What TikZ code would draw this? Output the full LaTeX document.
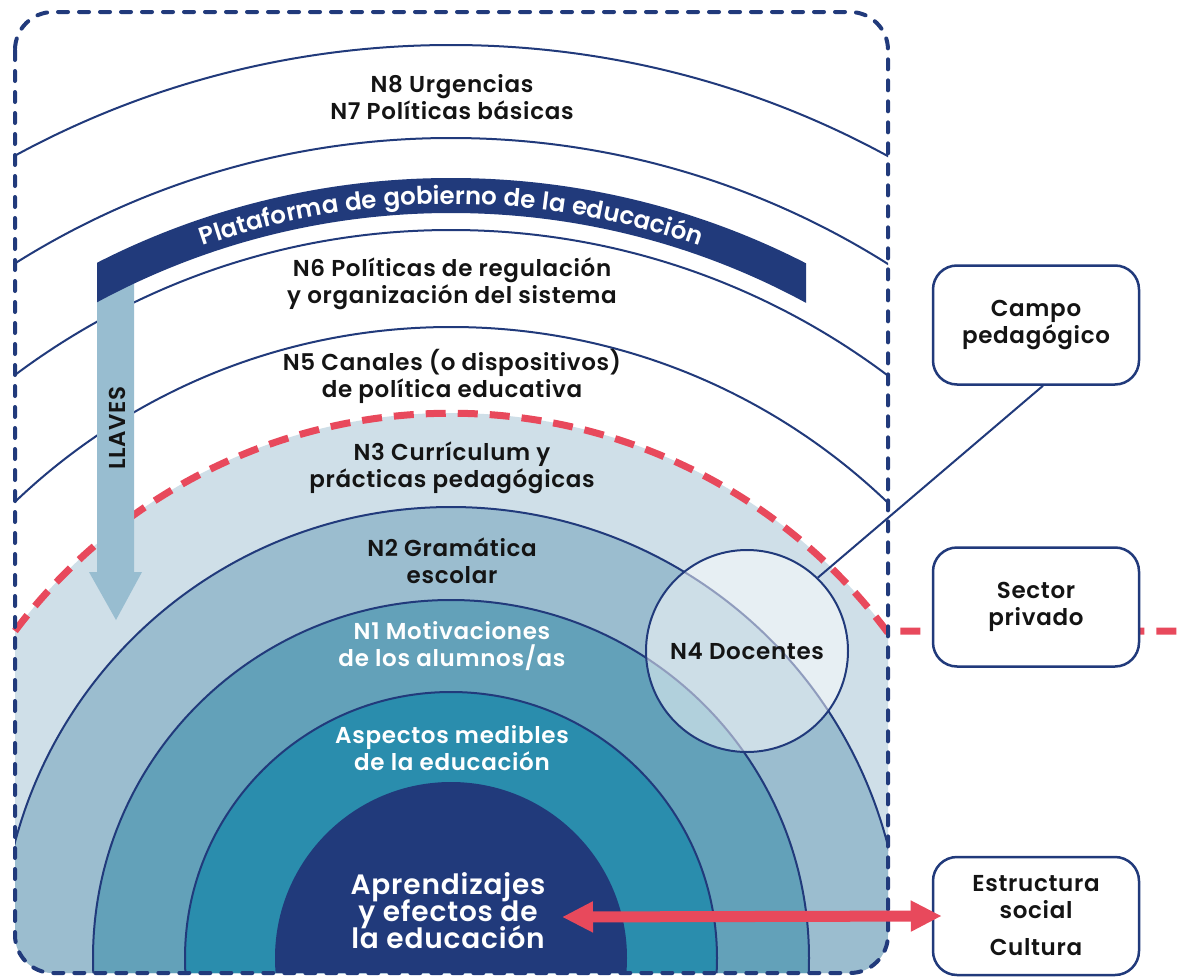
\documentclass[tikz,border=0pt]{standalone}
\usepackage{fontspec}
\IfFontExistsTF{Poppins SemiBold}{\setmainfont{Poppins SemiBold}[LetterSpace=3]}{\setmainfont{Poppins}[LetterSpace=3]}
\usetikzlibrary{arrows.meta,decorations.text}
\definecolor{navy}{HTML}{213A7B}
\definecolor{cNthree}{HTML}{CFDFE8}
\definecolor{cNtwo}{HTML}{9BBDCF}
\definecolor{cNone}{HTML}{63A1B9}
\definecolor{cAsp}{HTML}{2A8DAD}
\definecolor{redc}{HTML}{E8495C}
\definecolor{llave}{HTML}{98BDD0}
\definecolor{txt}{HTML}{141414}
\newcommand\lblfont{\fontsize{23}{27}\selectfont}
\newcommand\bandfont{\fontsize{24.5}{27}\selectfont}
\newcommand\bigfont{\fontsize{28}{27}\selectfont\lineskiplimit=-20pt}
\begin{document}
\begin{tikzpicture}[x=1pt,y=-1pt,
  thinarc/.style={draw=navy,line width=2pt},
  ring/.style={draw=navy,line width=2pt},
  lbl/.style={align=center,font=\lblfont,text=txt,inner sep=0pt},
  wlbl/.style={lbl,text=white},
  box/.style={draw=navy,line width=2.5pt,fill=white,rounded corners=24pt,
    minimum width=206pt,minimum height=119pt,align=center,font=\lblfont,text=txt,inner sep=0pt},
  reddash/.style={draw=redc,line width=7pt,dash pattern=on 20pt off 12pt},
  redarrow/.style={draw=redc,line width=11pt,{Triangle[length=31pt,width=29pt]}-{Triangle[length=31pt,width=29pt]}}
]
\fill[white] (0,0) rectangle (1187,977);
\useasboundingbox (0,0) rectangle (1187,977);
\coordinate (C) at (451,958);

% clipped content inside rounded frame
\begin{scope}
  \clip[rounded corners=38pt] (15,12) rectangle (888,973);
  \foreach \r in {913,820,728,631} \draw[thinarc] (C) circle[radius=\r];
  \fill[cNthree] (C) circle[radius=545];
  \filldraw[fill=cNtwo,ring] (C) circle[radius=451];
  \filldraw[fill=cNone,ring] (C) circle[radius=358];
  \filldraw[fill=cAsp,ring] (C) circle[radius=266];
  \fill[navy] (C) circle[radius=176];
\end{scope}

% red dashed boundary
\draw[reddash] (15,631) arc[start angle=-143.1,end angle=-36.9,radius=545] -- (1187,631);

% LLAVES arrow
\fill[llave] (97,280) -- (134,280) -- (134,572) -- (142,572) -- (116,620) -- (89,572) -- (97,572) -- cycle;
\node[lbl,rotate=90] (llaves) at (117,428) {LLAVES};

% band
\begin{scope}
  \clip (97,0) rectangle (806,400);
  \fill[navy,even odd rule] (C) circle[radius=780] (C) circle[radius=745];
\end{scope}
\path[decorate,decoration={text along path,text align=center,text color=white,
  text={|\bandfont|Plataforma de gobierno de la educación}}]
  (C) ++(-125:754) arc[start angle=-125,end angle=-55,radius=754];

% N4
\node[circle,minimum size=202pt,inner sep=0pt,draw=navy,line width=2pt,fill=white,
  fill opacity=0.5,text opacity=1,font=\lblfont,text=txt] (n4) at (747,651) {N4 Docentes};

% frame
\draw[navy,line width=4pt,dash pattern=on 10pt off 11pt,line cap=round,rounded corners=38pt]
  (15,12) rectangle (888,973);

% labels
\node[lbl] (l87) at (452,97.5) {N8 Urgencias\\N7 Políticas básicas};
\node[lbl] (l6) at (452,283.5) {N6 Políticas de regulación\\y organización del sistema};
\node[lbl] (l5) at (452,376.5) {N5 Canales (o dispositivos)\\de política educativa};
\node[lbl] (l3) at (452,467.5) {N3 Currículum y\\prácticas pedagógicas};
\node[lbl] (l2) at (452,560.5) {N2 Gramática\\escolar};
\node[wlbl] (l1) at (452,646) {N1 Motivaciones\\de los alumnos/as};
\node[wlbl] (lasp) at (452,748.5) {Aspectos medibles\\de la educación};
\node[wlbl,font=\bigfont] (core) at (448,911) {Aprendizajes\\y efectos de\\la educación};

% boxes
\node[box] (campo) at (1036,325) {Campo\\pedagógico};
\node[box] (sector) at (1036,607) {Sector\\privado};
\node[box,minimum height=118pt] (estr) at (1036,916) {Estructura\\social\\[10pt]Cultura};

\draw[navy,line width=2pt] ([xshift=7pt]campo.south) -- (n4.46);
\coordinate (redL) at (562,917);
\draw[redarrow] (redL) -- ([xshift=10pt]estr.west);
\end{tikzpicture}
\end{document}
